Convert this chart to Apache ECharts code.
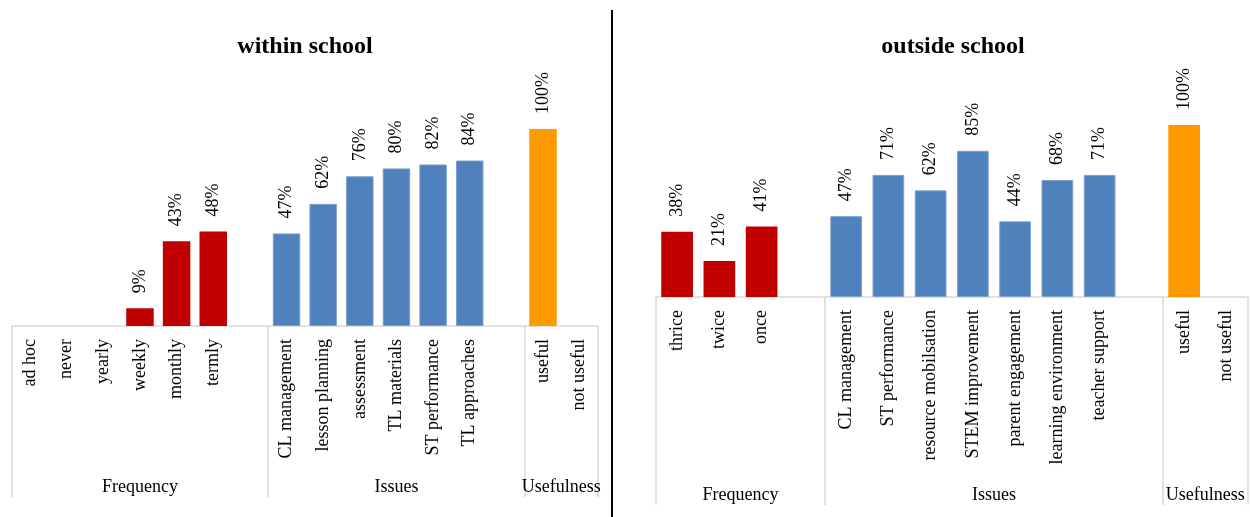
<!DOCTYPE html>
<html>
<head>
<meta charset="utf-8">
<script src="https://cdn.jsdelivr.net/npm/echarts@6/dist/echarts.min.js"></script>
<style>
html,body{margin:0;padding:0;background:#fff;}
#main{width:1250px;height:517px;}
</style>
</head>
<body>
<div id="main"></div>
<script>
// ---- within school ----
var withinFreqCats = ['ad hoc', 'never', 'yearly', 'weekly', 'monthly', 'termly'];
var withinFreqVals = [null, null, null, 9, 43, 48];
var withinIssueCats = ['CL management', 'lesson planning', 'assessment', 'TL materials', 'ST performance', 'TL approaches'];
var withinIssueVals = [47, 62, 76, 80, 82, 84];
var withinUseCats = ['useful', 'not useful'];
var withinUseVals = [100, null];

// ---- outside school ----
var outsideFreqCats = ['thrice', 'twice', 'once'];
var outsideFreqVals = [38, 21, 41];
var outsideIssueCats = ['CL management', 'ST performance', 'resource mobilsation', 'STEM improvement', 'parent engagement', 'learning environment', 'teacher support'];
var outsideIssueVals = [47, 71, 62, 85, 44, 68, 71];
var outsideUseCats = ['useful', 'not useful'];
var outsideUseVals = [100, null];

var groupNames = ['Frequency', 'Issues', 'Usefulness'];
var titles = ['within school', 'outside school'];

var RED = '#C00000', BLUE = '#4F81BD', ORANGE = '#FF9900';
var FONT = '"Liberation Serif", "Times New Roman", serif';

function buildPanel(freqCats, freqVals, issueCats, issueVals, useCats, useVals) {
  var groups = [[freqCats, freqVals], [issueCats, issueVals], [useCats, useVals]];
  var cats = [], series = [[], [], []], bounds = [0], centers = [];
  groups.forEach(function (g, gi) {
    var start = cats.length;
    g[0].forEach(function (c, i) {
      cats.push(c);
      for (var s = 0; s < 3; s++) series[s].push(s === gi ? g[1][i] : null);
    });
    if (gi < 2) { // blank spacer slot
      cats.push('');
      for (var s2 = 0; s2 < 3; s2++) series[s2].push(null);
    }
    bounds.push(cats.length);
    centers.push((start + cats.length) / 2);
  });
  return { cats: cats, series: series, bounds: bounds, centers: centers };
}

var panels = [
  buildPanel(withinFreqCats, withinFreqVals, withinIssueCats, withinIssueVals, withinUseCats, withinUseVals),
  buildPanel(outsideFreqCats, outsideFreqVals, outsideIssueCats, outsideIssueVals, outsideUseCats, outsideUseVals)
];

var grids = [
  { left: 11.7, width: 586.3, top: 129, height: 197 },
  { left: 656, width: 591.5, top: 125, height: 172 }
];
var tickLen = [171, 208];
var groupMargin = [152, 189];

var option = {
  animation: false,
  backgroundColor: '#fff',
  title: titles.map(function (t, i) {
    return {
      text: t, left: i === 0 ? 300 : 948, top: 30, textAlign: 'center',
      textStyle: { fontFamily: FONT, fontWeight: 'bold', fontSize: 24, color: '#000' }
    };
  }),
  grid: grids,
  xAxis: [],
  yAxis: [],
  series: [],
  graphic: [{
    type: 'line', shape: { x1: 612, y1: 10, x2: 612, y2: 517 },
    style: { stroke: '#000', lineWidth: 2 }
  }]
};

panels.forEach(function (p, pi) {
  option.xAxis.push({
    type: 'category', gridIndex: pi, data: p.cats,
    axisLine: { show: true, lineStyle: { color: '#D9D9D9', width: 1.5 } },
    axisTick: { show: false },
    axisLabel: { interval: 0, rotate: 90, margin: 13, fontFamily: FONT, fontSize: 18, color: '#000' }
  });
  var labelMap = {};
  p.centers.forEach(function (c, i) { labelMap[c] = groupNames[i]; });
  option.xAxis.push({
    type: 'value', gridIndex: pi, min: 0, max: p.cats.length, position: 'bottom',
    axisLine: { show: false },
    splitLine: { show: false },
    axisTick: { show: true, customValues: p.bounds, length: tickLen[pi], lineStyle: { color: '#D9D9D9', width: 1.5 } },
    axisLabel: {
      show: true, customValues: p.centers, margin: groupMargin[pi],
      fontFamily: FONT, fontSize: 18, color: '#000',
      formatter: function (v) { return labelMap[v] || ''; }
    }
  });
  option.yAxis.push({ type: 'value', gridIndex: pi, min: 0, max: 100, show: false });
  var colors = [RED, BLUE, ORANGE];
  p.series.forEach(function (d, si) {
    option.series.push({
      type: 'bar', xAxisIndex: pi * 2, yAxisIndex: pi, data: d,
      stack: 'p' + pi, barWidth: '75%',
      itemStyle: { color: colors[si], borderColor: si === 1 ? '#7EA1CE' : colors[si], borderWidth: si === 1 ? 1 : 0 },
      label: {
        show: true, position: 'top', rotate: 90, align: 'left', verticalAlign: 'middle',
        distance: 15, fontFamily: FONT, fontSize: 18, color: '#000',
        formatter: function (prm) { return prm.value == null ? '' : prm.value + '%'; }
      }
    });
  });
});

var chart = echarts.init(document.getElementById('main'), null, { renderer: 'canvas' });
chart.setOption(option);
</script>
</body>
</html>
